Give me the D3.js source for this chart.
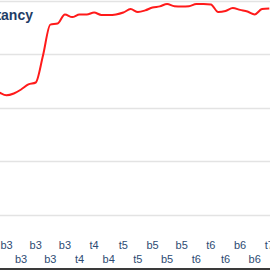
<!DOCTYPE html>
<html lang="en">
<head>
    <meta charset="UTF-8">
    <title>chart</title>
    <script src="https://cdn.jsdelivr.net/npm/d3@7"></script>
    <style>
        body { margin: 0; background: #fff; }
    </style>
</head>
<body>
<script>
    // tick labels, one per category (index 0..18)
    var categories = ["b3", "b3", "b3", "b3", "b3", "t4", "t4", "b4", "t5", "t5",
        "b5", "b5", "b5", "t6", "t6", "t6", "b6", "b6", "t7"];

    // line samples at half-category steps, starting at index -1
    var steps = d3.range(-1, 18.51, 0.5);
    var values = [67.2, 65.7, 64.6, 65.3, 66.8, 68.7, 69.4, 79.5, 91.0, 91.4,
        94.8, 93.8, 94.8, 94.8, 95.5, 94.6, 94.6, 94.8, 95.5, 96.8,
        95.7, 96.3, 97.4, 97.8, 98.7, 97.9, 97.8, 97.9, 98.7, 98.7,
        98.5, 95.7, 96.1, 97.2, 96.5, 95.9, 94.8, 96.8, 97.0];

    var yTicks = [0, 20, 40, 60, 80, 100];

    var width = 270, height = 270;

    var svg = d3.select("body").append("svg")
        .attr("width", width)
        .attr("height", height);

    var x = d3.scaleLinear()
        .domain([0, 18])
        .range([6.5, 269.3]);

    var y = d3.scaleLinear()
        .domain([0, 100])
        .range([268.5, 0.5]);

    // grid lines
    svg.append("g")
        .selectAll("line")
        .data(yTicks.slice(1))
        .enter()
        .append("line")
        .attr("x1", 0)
        .attr("x2", width)
        .attr("y1", function (d) { return Math.round(y(d)) + 0.5; })
        .attr("y2", function (d) { return Math.round(y(d)) + 0.5; })
        .attr("stroke", "#e3e3e3")
        .attr("stroke-width", 1.5);

    // x axis line
    svg.append("line")
        .attr("x1", 0)
        .attr("x2", width)
        .attr("y1", 269)
        .attr("y2", 269)
        .attr("stroke", "#3a3a3a")
        .attr("stroke-width", 2);

    // staggered category labels
    svg.append("g")
        .selectAll("text")
        .data(categories)
        .enter()
        .append("text")
        .attr("x", function (d, i) { return x(i); })
        .attr("y", function (d, i) { return i % 2 === 0 ? 249 : 263; })
        .attr("text-anchor", "middle")
        .attr("font-family", "Liberation Sans, Arial, sans-serif")
        .attr("font-size", 11)
        .attr("fill", "#2d4b73")
        .text(function (d) { return d; });

    var line = d3.line()
        .x(function (d, i) { return x(steps[i]); })
        .y(function (d) { return y(d); })
        .curve(d3.curveMonotoneX);

    svg.append("path")
        .attr("d", line(values))
        .attr("fill", "none")
        .attr("stroke", "#ff1a1a")
        .attr("stroke-width", 2);

    // title, cut off on the left
    svg.append("text")
        .attr("x", 33)
        .attr("y", 20)
        .attr("text-anchor", "end")
        .attr("font-family", "Liberation Sans, Arial, sans-serif")
        .attr("font-weight", "bold")
        .attr("font-size", 14)
        .attr("fill", "#1f3d66")
        .text("Life Expectancy");
</script>
</body>
</html>
